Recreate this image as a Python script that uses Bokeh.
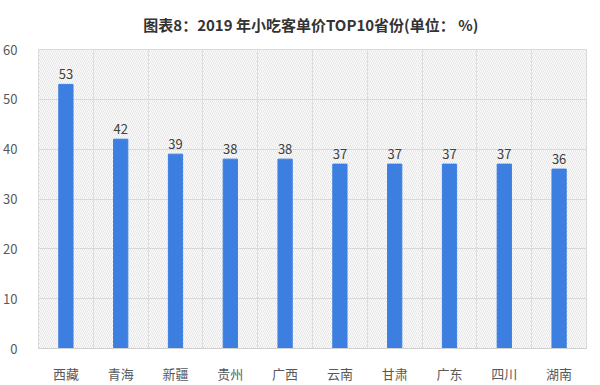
from bokeh.plotting import figure
from bokeh.models import FixedTicker, BoxAnnotation, ColumnDataSource
from bokeh.core.properties import value
from bokeh.embed import file_html
from bokeh.resources import INLINE

provinces = ["西藏", "青海", "新疆", "贵州", "广西", "云南", "甘肃", "广东", "四川", "湖南"]
prices = [53, 42, 39, 38, 38, 37, 37, 37, 37, 36]
y_ticks = [0, 10, 20, 30, 40, 50, 60]
title_text = "图表8：2019 年小吃客单价TOP10省份(单位：  %)"

FONT = "Noto Sans CJK SC"

centers = [i + 0.5 for i in range(len(provinces))]
src = ColumnDataSource(dict(x=centers, top=prices, label=[str(v) for v in prices]))

p = figure(frame_width=548, frame_height=299, output_backend="svg", toolbar_location=None,
           x_range=(0, len(provinces)), y_range=(0, 60),
           min_border_left=29, min_border_right=7, min_border_top=48, min_border_bottom=30)

p.title.text = title_text
p.title.align = "center"
p.title.vertical_align = "top"
p.title.text_font = FONT
p.title.text_font_size = "15px"
p.title.text_font_style = "bold"
p.title.text_color = "#333333"
p.title.standoff = 26
p.title.offset = -9

bg = BoxAnnotation(fill_alpha=0, hatch_pattern="left_diagonal_line", hatch_color="#dcdcdc",
                   hatch_scale=4, hatch_weight=0.8, line_alpha=0, level="underlay")
p.add_layout(bg)

p.vbar(x="x", top="top", width=0.26, source=src, color="#3d7fe0")
p.text(x="x", y="top", text="label", source=src, text_align="center", text_baseline="bottom",
       y_offset=-5, text_font=value(FONT), text_font_size="13px", text_color="#404040")

p.xaxis.ticker = FixedTicker(ticks=centers)
p.xaxis.major_label_overrides = {c: n for c, n in zip(centers, provinces)}
p.xgrid.ticker = FixedTicker(ticks=list(range(len(provinces) + 1)))
p.yaxis.ticker = FixedTicker(ticks=y_ticks)

for ax in (p.xaxis, p.yaxis):
    ax.major_tick_line_color = None
    ax.minor_tick_line_color = None
    ax.major_label_text_font = FONT
    ax.major_label_text_font_size = "13px"
    ax.major_label_text_color = "#595959"
p.yaxis.major_label_standoff = 15
p.yaxis.axis_line_color = None
p.xaxis.axis_line_color = "#d0d0d0"
p.xaxis.major_label_standoff = 9

p.xgrid.grid_line_color = "#dddddd"
p.ygrid.grid_line_color = "#d6d6d6"
p.outline_line_color = "#d9d9d9"
p.background_fill_color = "white"
p.border_fill_color = "white"

open("out.html", "w").write(file_html(p, INLINE))
